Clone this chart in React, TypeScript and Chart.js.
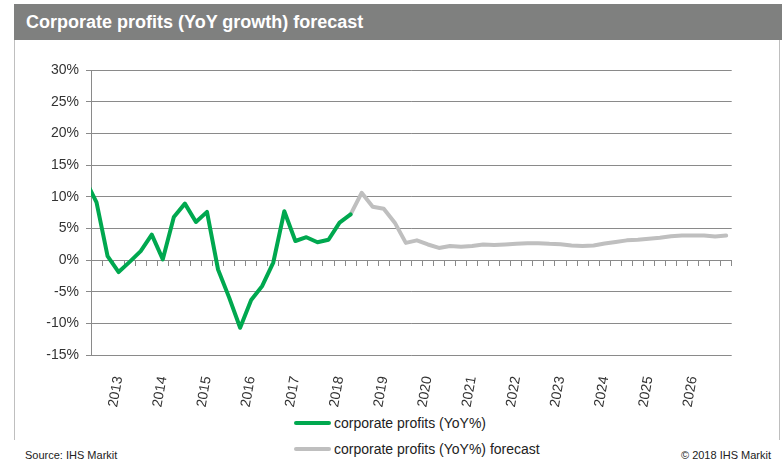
import React, { useEffect, useRef } from "react";
import { Chart, registerables } from "chart.js";

Chart.register(...registerables);

// ---- data ----
const quarters = [
  "2012Q2", "2012Q3", "2012Q4",
  "2013Q1", "2013Q2", "2013Q3", "2013Q4",
  "2014Q1", "2014Q2", "2014Q3", "2014Q4",
  "2015Q1", "2015Q2", "2015Q3", "2015Q4",
  "2016Q1", "2016Q2", "2016Q3", "2016Q4",
  "2017Q1", "2017Q2", "2017Q3", "2017Q4",
  "2018Q1", "2018Q2", "2018Q3", "2018Q4",
  "2019Q1", "2019Q2", "2019Q3", "2019Q4",
  "2020Q1", "2020Q2", "2020Q3", "2020Q4",
  "2021Q1", "2021Q2", "2021Q3", "2021Q4",
  "2022Q1", "2022Q2", "2022Q3", "2022Q4",
  "2023Q1", "2023Q2", "2023Q3", "2023Q4",
  "2024Q1", "2024Q2", "2024Q3", "2024Q4",
  "2025Q1", "2025Q2", "2025Q3", "2025Q4",
  "2026Q1", "2026Q2", "2026Q3", "2026Q4",
];

// corporate profits (YoY%), 2012Q2 .. 2018Q2
const actualStart = "2012Q2";
const actual = [
  12.6, 9.1, 0.6, -1.9, -0.3, 1.4, 4.0, 0.1, 6.8, 8.9, 6.0, 7.6, -1.5, -5.9,
  -10.7, -6.3, -4.1, -0.4, 7.7, 3.0, 3.6, 2.8, 3.2, 5.9, 7.2,
];

// corporate profits (YoY%) forecast, 2018Q2 .. 2026Q4
const forecastStart = "2018Q2";
const forecast = [
  7.2, 10.6, 8.4, 8.1, 5.9, 2.7, 3.1, 2.45, 1.9, 2.2, 2.1, 2.2, 2.45, 2.35,
  2.45, 2.55, 2.65, 2.65, 2.55, 2.5, 2.3, 2.2, 2.3, 2.6, 2.85, 3.1, 3.2, 3.35,
  3.5, 3.75, 3.85, 3.85, 3.85, 3.7, 3.85,
];

const yearLabels = [
  "2013", "2014", "2015", "2016", "2017", "2018", "2019",
  "2020", "2021", "2022", "2023", "2024", "2025", "2026",
];

const yTicks = [-15, -10, -5, 0, 5, 10, 15, 20, 25, 30];

const seriesNames = ["corporate profits (YoY%)", "corporate profits (YoY%) forecast"];
const seriesColors = ["#00a84f", "#bfbfbf"];

const titleText = "Corporate profits (YoY growth) forecast";
const sourceText = "Source: IHS Markit";
const copyrightText = "© 2018 IHS Markit";

const FONT = "'Liberation Sans', Arial, Helvetica, sans-serif";
const GRID = "#8a8a8a";

// position of a quarter on the x scale (categories centred between quarterly ticks)
const qPos = (q: string) => quarters.indexOf(q) - 0.5;
const toPoints = (start: string, values: number[]) => {
  const s = quarters.indexOf(start);
  return values.map((v, i) => ({ x: qPos(quarters[s + i]), y: v }));
};
const yearTickPos = yearLabels.map((y) => qPos(y + "Q1"));

export default function App() {
  const ref = useRef<HTMLCanvasElement | null>(null);

  useEffect(() => {
    if (!ref.current) return;
    const xMax = quarters.length - 1;
    const chart = new Chart(ref.current, {
      type: "line",
      data: {
        datasets: [
          {
            label: seriesNames[0],
            data: toPoints(actualStart, actual),
            borderColor: seriesColors[0],
            backgroundColor: seriesColors[0],
            borderWidth: 4,
            pointRadius: 0,
            tension: 0,
            borderJoinStyle: "round",
            borderCapStyle: "round",
            clip: 0,
          },
          {
            label: seriesNames[1],
            data: toPoints(forecastStart, forecast),
            borderColor: seriesColors[1],
            backgroundColor: seriesColors[1],
            borderWidth: 4,
            pointRadius: 0,
            tension: 0,
            borderJoinStyle: "round",
            borderCapStyle: "round",
            clip: 0,
          },
        ],
      },
      options: {
        animation: false,
        responsive: false,
        events: [],
        layout: { padding: { top: 30, right: 50.3, left: 0, bottom: 0 } },
        plugins: {
          legend: { display: false },
          tooltip: { enabled: false },
          title: { display: false },
        },
        scales: {
          x: {
            type: "linear",
            position: "bottom",
            min: 0,
            max: xMax,
            grid: { display: false },
            border: { display: false },
            afterBuildTicks: (scale: any) => {
              scale.ticks = yearTickPos.map((v) => ({ value: v }));
            },
            afterFit: (scale: any) => {
              scale.height = 55;
            },
            ticks: {
              autoSkip: false,
              minRotation: 80,
              maxRotation: 80,
              padding: 12,
              color: "#333333",
              font: { family: FONT, size: 14 },
              callback: (_v: any, i: number) => yearLabels[i],
            },
          },
          x2: {
            type: "linear",
            axis: "x",
            position: { y: 0 },
            min: 0,
            max: xMax,
            grid: {
              display: true,
              drawOnChartArea: false,
              drawTicks: true,
              tickLength: 5,
              color: GRID,
            },
            border: { display: true, color: GRID, width: 1 },
            ticks: { display: false, stepSize: 1, autoSkip: false, maxTicksLimit: 1000 },
          },
          y: {
            type: "linear",
            min: -15,
            max: 30,
            afterBuildTicks: (scale: any) => {
              scale.ticks = yTicks.map((v) => ({ value: v }));
            },
            afterFit: (scale: any) => {
              scale.width = 91;
            },
            grid: {
              color: GRID,
              lineWidth: 1,
              drawTicks: true,
              tickLength: 5,
            },
            border: { display: true, color: GRID, width: 1 },
            ticks: {
              padding: 7,
              color: "#333333",
              font: { family: FONT, size: 14 },
              callback: (v: any) => v + "%",
            },
          },
        },
      } as any,
    });
    return () => chart.destroy();
  }, []);

  const legendRow = (i: number, top: number) => (
    <div
      key={i}
      style={{
        position: "absolute",
        left: 294,
        top: top - 10,
        height: 20,
        display: "flex",
        alignItems: "center",
        whiteSpace: "nowrap",
      }}
    >
      <div style={{ width: 37, height: 4, background: seriesColors[i], borderRadius: 2 }} />
      <span style={{ marginLeft: 3, fontFamily: FONT, fontSize: 14, color: "#222" }}>
        {seriesNames[i]}
      </span>
    </div>
  );

  return (
    <div
      style={{
        position: "absolute",
        left: 0,
        top: 0,
        width: 782,
        height: 471,
        background: "#ffffff",
        overflow: "hidden",
      }}
    >
      <div
        style={{
          position: "absolute",
          left: 14,
          top: 4,
          width: 768,
          height: 36,
          background: "#7f807f",
        }}
      >
        <div
          style={{
            position: "absolute",
            left: 12,
            top: 0,
            height: 36,
            lineHeight: "36px",
            color: "#ffffff",
            fontFamily: FONT,
            fontWeight: "bold",
            fontSize: 18,
            whiteSpace: "nowrap",
          }}
        >
          {titleText}
        </div>
      </div>
      <div style={{ position: "absolute", left: 14, top: 40, width: 1, height: 400, background: "#bfbfbf" }} />
      <div style={{ position: "absolute", left: 779, top: 40, width: 1, height: 400, background: "#bfbfbf" }} />
      <canvas
        ref={ref}
        width={782}
        height={370}
        style={{ position: "absolute", left: 0, top: 40, width: 782, height: 370 }}
      />
      {legendRow(0, 423)}
      {legendRow(1, 449)}
      <div
        style={{
          position: "absolute",
          left: 25,
          top: 449,
          fontFamily: FONT,
          fontSize: 11,
          color: "#222",
          whiteSpace: "nowrap",
        }}
      >
        {sourceText}
      </div>
      <div
        style={{
          position: "absolute",
          right: 11,
          top: 449,
          fontFamily: FONT,
          fontSize: 11,
          color: "#222",
          whiteSpace: "nowrap",
        }}
      >
        {copyrightText}
      </div>
    </div>
  );
}
